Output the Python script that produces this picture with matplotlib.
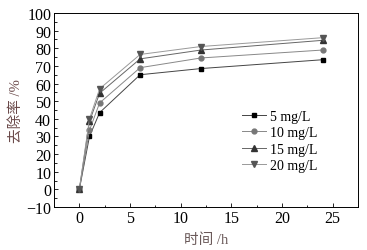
import matplotlib.pyplot as plt
from matplotlib.ticker import MultipleLocator

plt.rcParams['font.family'] = ['Liberation Serif', 'Noto Sans CJK SC']

t = [0, 1, 2, 6, 12, 24]
r5 = [0, 30, 43.5, 65, 68.5, 73.5]
r10 = [0, 33.5, 49, 69, 74.5, 79]
r15 = [0, 38.5, 54.5, 74, 79, 84.5]
r20 = [0, 40, 57, 76.5, 81, 86]

fig = plt.figure(figsize=(3.67, 2.51), dpi=100)
ax = fig.add_axes([54 / 367, 1 - 208 / 251, 304 / 367, 194 / 251])

ax.plot(t, r5, marker='s', color='#444444', markerfacecolor='black', markeredgecolor='black',
        markersize=3.5, linewidth=0.7, label='5 mg/L')
ax.plot(t, r10, marker='o', color='#888888', markerfacecolor='#777777', markeredgecolor='#777777',
        markersize=3.5, linewidth=0.7, label='10 mg/L')
ax.plot(t, r15, marker='^', color='#666666', markerfacecolor='#333333', markeredgecolor='#333333',
        markersize=4, linewidth=0.7, label='15 mg/L')
ax.plot(t, r20, marker='v', color='#999999', markerfacecolor='#555555', markeredgecolor='#555555',
        markersize=4, linewidth=0.7, label='20 mg/L')

ax.set_xlim(-2.5, 27.5)
ax.set_ylim(-10, 100)
ax.xaxis.set_major_locator(MultipleLocator(5))
ax.xaxis.set_minor_locator(MultipleLocator(2.5))
ax.yaxis.set_major_locator(MultipleLocator(10))
ax.yaxis.set_minor_locator(MultipleLocator(5))
ax.tick_params(which='both', direction='in', labelsize=11.5, width=0.6, pad=2)
ax.tick_params(which='major', length=3)
ax.tick_params(which='minor', length=1.8)
for s in ax.spines.values():
    s.set_linewidth(0.7)

ax.set_xlabel('时间 /h', fontsize=10.5, color='#6b5a5a', labelpad=5)
ax.set_ylabel('去除率 /%', fontsize=10.5, color='#6b4a4a', labelpad=2)

ax.legend(loc='upper left', bbox_to_anchor=(0.6, 0.53), frameon=False, fontsize=10,
          handlelength=1.7, handletextpad=0.3, labelspacing=0.25, borderaxespad=0)

fig.savefig('out.png', dpi=100)
